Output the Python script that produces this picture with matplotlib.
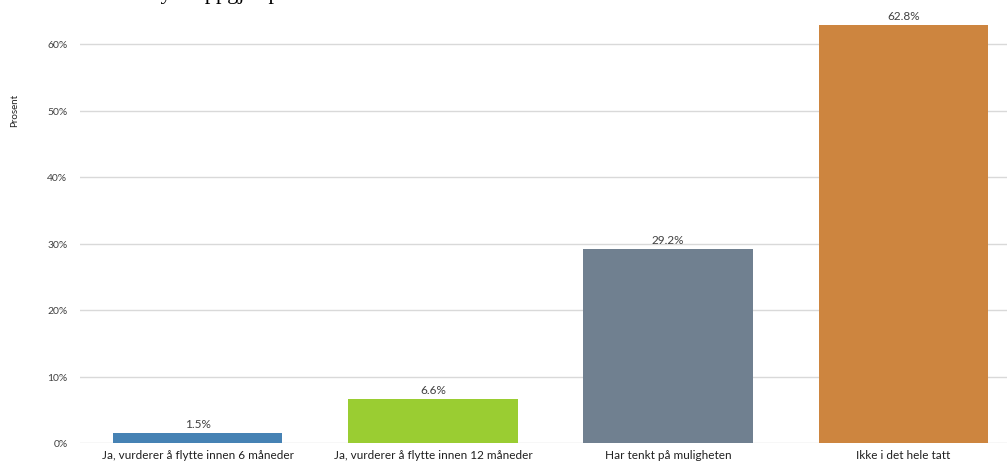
import matplotlib
matplotlib.use("Agg")
import matplotlib.pyplot as plt

categories = ["Ja, vurderer å flytte innen 6 måneder",
              "Ja, vurderer å flytte innen 12 måneder",
              "Har tenkt på muligheten",
              "Ikke i det hele tatt"]
values = [1.5, 6.6, 29.2, 62.8]
colors = ["#4682B4", "#9ACD32", "#708090", "#CD853F"]
yticks = [0, 10, 20, 30, 40, 50, 60]

plt.rcParams['font.family'] = ['Lato', 'DejaVu Sans']

W, H = 1007, 464
fig = plt.figure(figsize=(W/100, H/100), dpi=100)
x0, x1 = 80, 1021
y0, y1 = 444, 0
ax = fig.add_axes([x0/W, (H-y0)/H, (x1-x0)/W, (y0-y1)/H])

xs = list(range(len(categories)))
bars = ax.bar(xs, values, width=0.72, color=colors, zorder=3)
ax.set_xlim(-0.5, 3.5)
ax.set_ylim(0, 444/66.5*10)
ax.set_yticks(yticks)
ax.set_yticklabels([f"{t}%" for t in yticks], fontsize=7.5, color="#404040")
ax.set_xticks(xs)
ax.set_xticklabels(categories, fontsize=8.5, color="#202020")
ax.tick_params(axis='both', length=0, pad=9)
ax.tick_params(axis='x', pad=4)
ax.grid(axis='y', color="#d9d9d9", linewidth=1, zorder=0)
for s in ax.spines.values():
    s.set_visible(False)
for x, v in zip(xs, values):
    ax.text(x, v + 0.6, f"{v}%", ha='center', va='bottom', fontsize=8.5, color="#404040")

fig.text(15/W, 1 - 110/H, "Prosent", rotation=90, ha='center', va='center', fontsize=7, color="#202020")
fig.text(142/W, 1 + 1/H, "Flytteoppgjør p", fontsize=16, family="Liberation Serif", va='baseline', ha='left')

fig.savefig("out.png", dpi=100)
